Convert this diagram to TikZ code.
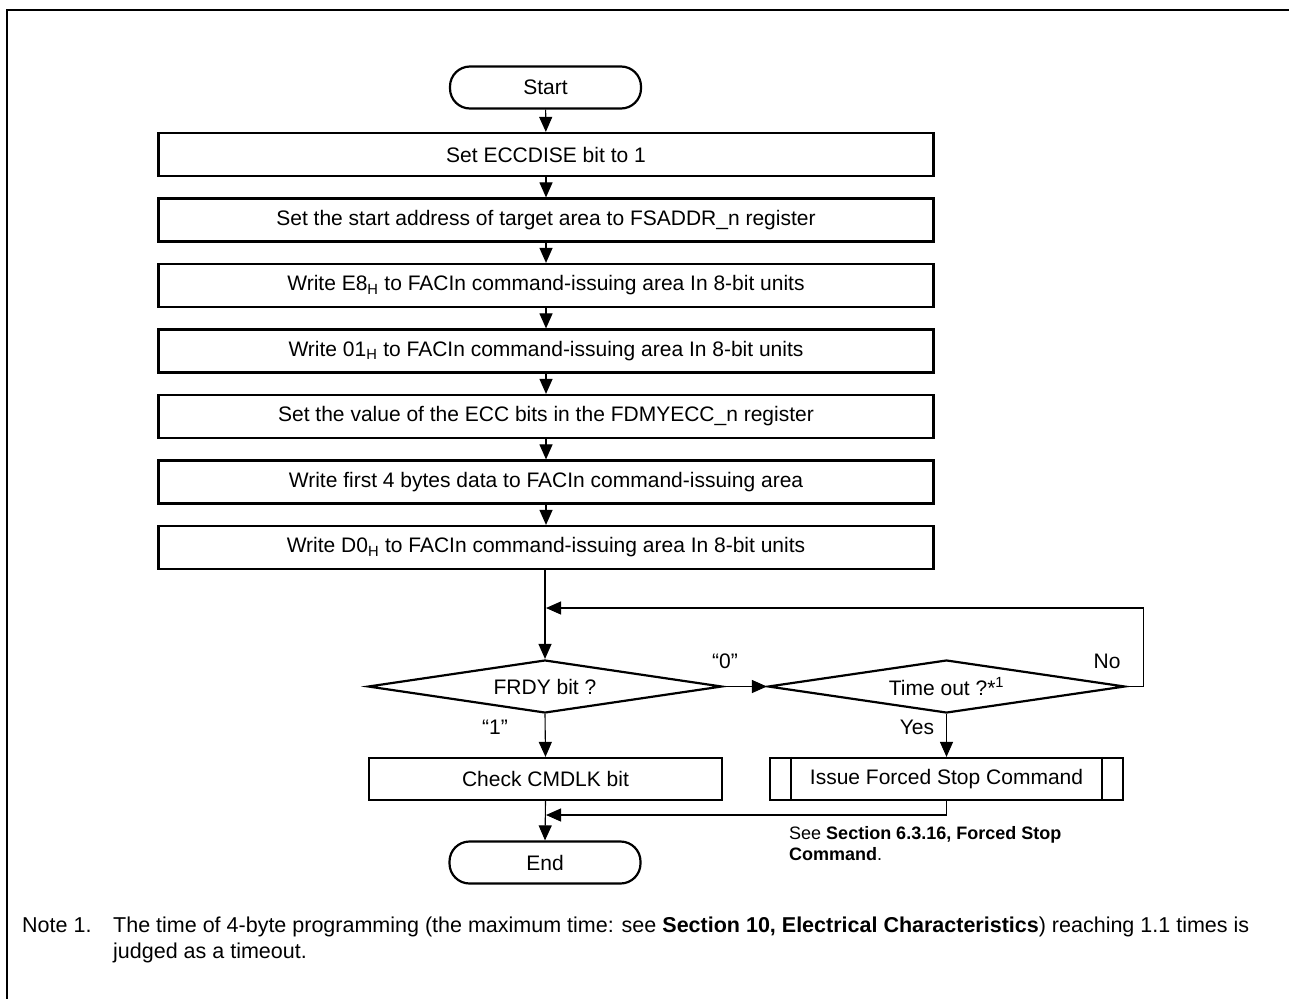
\documentclass[tikz,border=0pt]{standalone}
\usepackage{fontspec}
\setmainfont{Liberation Sans}
\usetikzlibrary{shapes.geometric,arrows.meta}
\begin{document}
\begin{tikzpicture}[x=1pt,y=-1pt,
  every node/.style={font=\fontsize{21}{25}\selectfont, inner sep=0pt},
  stepbox/.style={draw, line width=2.2pt, minimum width=775pt, minimum height=43pt},
  smallbox/.style={draw, line width=2.2pt, minimum width=353pt, minimum height=42pt},
  term/.style={draw, line width=2.2pt, rounded corners=20pt, minimum width=191pt, minimum height=42pt},
  decision/.style={draw, line width=2.2pt, diamond, aspect=6.7, minimum width=354pt, minimum height=53pt},
  conn/.style={line width=1.1pt, -{Triangle[length=15pt,width=13pt]}},
  lbl/.style={font=\fontsize{21}{25}\selectfont},
  notefont/.style={font=\fontsize{21.5}{25}\selectfont, anchor=base west},
  seefont/.style={font=\fontsize{18}{22}\selectfont, anchor=base west}
]
\useasboundingbox (0,0) rectangle (1289,999);
\draw[line width=2.5pt] (1289,10) -- (7,10) -- (7,999);

\node[term] (start) at (545.5,87.5) {Start};
\node[stepbox] (b1) at (546,154.5) {Set ECCDISE bit to 1};
\node[stepbox] (b2) at (546,220) {Set the start address of target area to FSADDR\_n register};
\node[stepbox] (b3) at (546,285.5) {Write E8\textsubscript{H} to FACIn command-issuing area In 8-bit units};
\node[stepbox] (b4) at (546,351) {Write 01\textsubscript{H} to FACIn command-issuing area In 8-bit units};
\node[stepbox] (b5) at (546,416.5) {Set the value of the ECC bits in the FDMYECC\_n register};
\node[stepbox] (b6) at (546,482) {Write first 4 bytes data to FACIn command-issuing area};
\node[stepbox] (b7) at (546,547.5) {Write D0\textsubscript{H} to FACIn command-issuing area In 8-bit units};

\node[decision] (frdy) at (545,686.5) {FRDY bit ?};
\node[decision, minimum width=357pt] (tout) at (946.5,686.5) {Time out ?*\textsuperscript{1}};
\node[smallbox] (chk) at (545.5,779) {Check CMDLK bit};
\node[smallbox] (iss) at (946.5,779) {Issue Forced Stop Command};
\draw[line width=2.2pt] ([xshift=22pt]iss.north west) -- ([xshift=22pt]iss.south west);
\draw[line width=2.2pt] ([xshift=-22pt]iss.north east) -- ([xshift=-22pt]iss.south east);
\node[term] (end) at (545,862.5) {End};

\coordinate (loopin) at (546,608);
\coordinate (merge) at (546,815);

\draw[conn] (start) -- (b1);
\draw[conn] (b1) -- (b2);
\draw[conn] (b2) -- (b3);
\draw[conn] (b3) -- (b4);
\draw[conn] (b4) -- (b5);
\draw[conn] (b5) -- (b6);
\draw[conn] (b6) -- (b7);
\draw[conn] (b7.south -| frdy.north) -- (frdy.north);
\draw[conn] (frdy.east) -- (tout.west);
\draw[conn] (tout.east) -- ++(17,0) |- (loopin);
\draw[conn] (frdy.south) -- (chk.north);
\draw[conn] (tout.south) -- (iss.north);
\draw[conn] (iss.south) |- (merge);
\draw[conn] (chk.south) -- (end.north);

\node[lbl] at (725,661) {“0”};
\node[lbl] at (1107,661) {No};
\node[lbl] at (495,727) {“1”};
\node[lbl] at (917,727) {Yes};

\node[seefont] at (789,839) {See \textbf{Section 6.3.16, Forced Stop}};
\node[seefont] at (789,860) {\textbf{Command}.};

\node[notefont] at (22,932) {Note 1.};
\node[notefont] at (113,932) {The time of 4-byte programming (the maximum time: see \textbf{Section 10, Electrical Characteristics}) reaching 1.1 times is};
\node[notefont] at (113,958) {judged as a timeout.};
\end{tikzpicture}
\end{document}
